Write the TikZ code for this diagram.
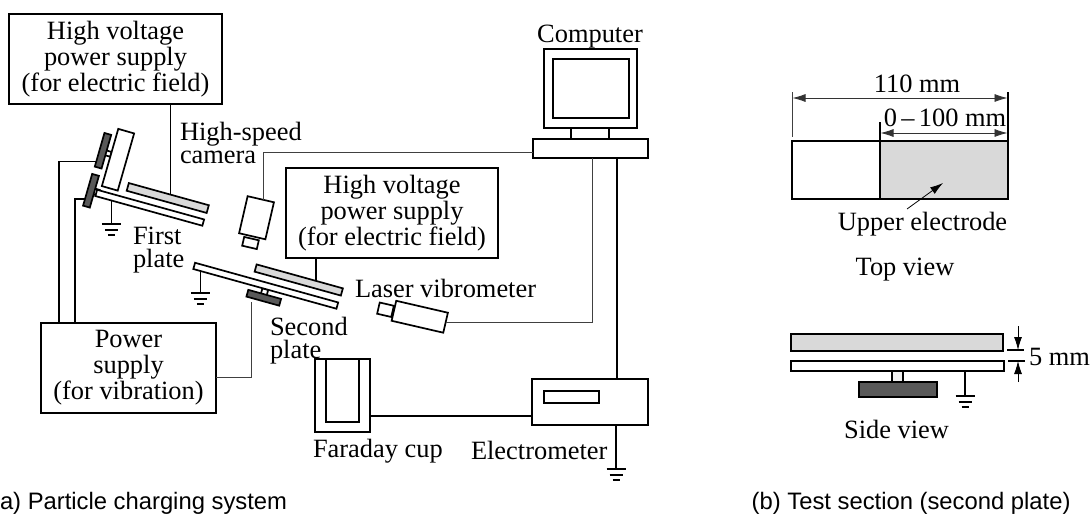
\documentclass[tikz,border=0pt]{standalone}
\usepackage{fontspec}
\setmainfont{Liberation Serif}
\newfontfamily\capfont{Liberation Sans}
\usetikzlibrary{arrows.meta}
\definecolor{lightplate}{HTML}{D9D9D9}
\definecolor{darkshaker}{HTML}{595959}
\tikzset{
  wire/.style={line width=1.7pt, black},
  thinwire/.style={line width=0.9pt, black!75},
  box/.style={draw, line width=1.7pt, fill=white, inner sep=0pt, outer sep=0pt, align=center},
  plate/.style={box, fill=white},
  electrode/.style={box, fill=lightplate},
  shaker/.style={box, fill=darkshaker},
  lbl/.style={inner sep=0pt, outer sep=0pt, anchor=base west, align=left, font=\fontsize{26.4}{23}\selectfont},
  lblc/.style={lbl, anchor=base, align=center},
  captext/.style={inner sep=0pt, outer sep=0pt, anchor=base west, font=\capfont\fontsize{23.8}{26}\selectfont},
  dimline/.style={line width=0.8pt, black!80, {Latex[length=13pt,width=8pt]}-{Latex[length=13pt,width=8pt]}},
  gndbars/.pic={\draw[wire] (-9.5,0) -- (9.5,0) (-6.5,6) -- (6.5,6) (-3.5,11) -- (3.5,11);}
}
\begin{document}
\begin{tikzpicture}[x=1pt, y=-1pt]
    \useasboundingbox (0,0) rectangle (1091,514);

    % Power supplies
    \node[box, minimum width=213pt, minimum height=90pt, font=\fontsize{26.4}{26}\selectfont] (hvA) at (115.5,59) {High voltage\\power supply\\(for electric field)};
    \node[box, minimum width=212pt, minimum height=90pt, font=\fontsize{26.4}{26}\selectfont] (hvB) at (392,213) {High voltage\\power supply\\(for electric field)};
    \node[box, minimum width=175pt, minimum height=90pt, font=\fontsize{26.4}{26}\selectfont] (power) at (128.5,368) {Power\\supply\\(for vibration)};

    % First plate
    \node[plate, minimum width=6pt, minimum height=5pt, rotate=-16] (stubAa) at (108,153.5) {};
    \node[plate, minimum width=6pt, minimum height=6pt, rotate=-16] (stubAb) at (96,192) {};
    \node[shaker, minimum width=7pt, minimum height=35pt, rotate=-16] (shakerAa) at (103,150.75) {};
    \node[shaker, minimum width=7pt, minimum height=33pt, rotate=-16] (shakerAb) at (91,190.75) {};
    \node[plate, minimum width=16.5pt, minimum height=59.5pt, rotate=-16] (tallA) at (118,159.75) {};
    \node[plate, minimum width=111pt, minimum height=6.5pt, rotate=-15.5] (plateA) at (149.75,207.75) {};
    \node[electrode, minimum width=83pt, minimum height=8pt, rotate=-15.5] (upperA) at (167.75,198) {};
    \path (plateA.south west) -- (plateA.south east) coordinate[pos=.15] (plateAgnd);
    \path (upperA.north west) -- (upperA.north east) coordinate[pos=.52] (upperAin);
    \path (shakerAa.north west) -- (shakerAa.south west) coordinate[pos=.85] (shakerAain);
    \path (shakerAb.north west) -- (shakerAb.south west) coordinate[pos=.8] (shakerAbin);
    \coordinate (gndA) at (113,224);
    \coordinate (powerOutA) at (59,323);
    \coordinate (powerOutB) at (75,323);
    \draw[wire] (upperAin) -- (upperAin |- hvA.south);
    \draw[wire] (plateAgnd) -- (plateAgnd |- gndA);
    \pic at (plateAgnd |- gndA) {gndbars};
    \draw[wire] (powerOutA) |- (shakerAain);
    \draw[wire] (powerOutB) |- (shakerAbin);

    % Second plate
    \node[plate, minimum width=6pt, minimum height=6pt, rotate=-15.5] (stubB) at (264.5,292) {};
    \node[shaker, minimum width=34pt, minimum height=7pt, rotate=-15.5] (shakerB) at (263.75,297.75) {};
    \node[plate, minimum width=148.5pt, minimum height=6.5pt, rotate=-15.5] (plateB) at (265.75,285.75) {};
    \node[electrode, minimum width=89.5pt, minimum height=7.5pt, rotate=-15.5] (upperB) at (298.75,280) {};
    \path (plateB.south west) -- (plateB.south east) coordinate[pos=.05] (plateBgnd);
    \path (upperB.north west) -- (upperB.north east) coordinate[pos=.69] (upperBin);
    \coordinate (gndB) at (201,293);
    \coordinate (powerOutC) at (216,377);
    \draw[wire] (upperBin) -- (upperBin |- hvB.south);
    \draw[wire] (plateBgnd) -- (plateBgnd |- gndB);
    \pic at (plateBgnd |- gndB) {gndbars};
    \coordinate (shakerBout) at (251,302);
    \draw[thinwire] (shakerBout) |- (powerOutC);

    % Computer
    \node[box, minimum width=93pt, minimum height=79pt] (monitor) at (590.5,88.5) {};
    \node[box, minimum width=76pt, minimum height=59pt] (screen) at (591,88.5) {};
    \node[box, minimum width=38pt, minimum height=11pt] (neck) at (590,133.5) {};
    \node[box, minimum width=115pt, minimum height=19pt] (pcbase) at (590.5,148.5) {};
    \coordinate (pcLeft) at (533,152);
    \coordinate (pcThin) at (592,158);
    \coordinate (pcThick) at (617,158);

    % Camera and laser vibrometer
    \node[box, minimum width=15pt, minimum height=9pt, rotate=-13] (lens) at (250.5,243) {};
    \node[box, minimum width=27pt, minimum height=38pt, rotate=-13] (camera) at (256.5,217.75) {};
    \path (camera.north west) -- (camera.north east) coordinate[pos=.6] (cameraOut);
    \draw[thinwire] (cameraOut) |- (pcLeft);
    \node[box, minimum width=14.5pt, minimum height=11.5pt, rotate=-13] (laserlens) at (385.5,309.75) {};
    \node[box, minimum width=53pt, minimum height=20.5pt, rotate=-13] (laser) at (419.75,316.75) {};
    \draw[thinwire] (laser.east) -| (pcThin);

    % Faraday cup and electrometer
    \node[box, minimum width=55pt, minimum height=73pt] (cup) at (342.5,395.5) {};
    \node[box, minimum width=33pt, minimum height=63pt] (cupin) at (342.5,390.5) {};
    \node[box, minimum width=116pt, minimum height=46pt] (meter) at (590,402) {};
    \node[box, minimum width=55pt, minimum height=12pt] (display) at (571.5,397) {};
    \coordinate (meterLeft) at (532,416);
    \coordinate (meterTop) at (617,379);
    \coordinate (gndC) at (616,469);
    \draw[wire] (meterLeft) -- (meterLeft -| cup.east);
    \draw[wire] (pcThick) -- (meterTop);
    \draw[wire] (gndC |- meter.south) -- (gndC);
    \pic at (gndC) {gndbars};

    % Labels of the system
    \node[lblc] (lblComputer) at (590,42) {Computer};
    \node[lbl] (lblCamera) at (180,163) {High-speed\\camera};
    \node[lbl] (lblFirst) at (133,267) {First\\plate};
    \node[lbl] (lblSecond) at (270,358) {Second\\plate};
    \node[lbl] (lblLaser) at (355,297) {Laser vibrometer};
    \node[lbl] (lblCup) at (313,457) {Faraday cup};
    \node[lbl] (lblMeter) at (471,459) {Electrometer};
    \node[captext] (capA) at (0,509) {a) Particle charging system};

    % Top view
    \node[plate, minimum width=88pt, minimum height=58pt] (topLeft) at (836,170) {};
    \node[electrode, minimum width=128pt, minimum height=58pt] (topRight) at (944,170) {};
    \coordinate (tickL) at (792,92);
    \coordinate (tickM) at (880,122);
    \coordinate (tickR) at (1008,92);
    \coordinate (dimLa) at (792.5,98);
    \coordinate (dimLb) at (1007.5,98);
    \coordinate (dimMa) at (880.5,133);
    \coordinate (dimMb) at (1007.5,133);
    \coordinate (noteTail) at (907,209);
    \coordinate (noteHead) at (943,183);
    \draw[thinwire] (tickL) -- (792,137);
    \draw[wire] (tickM) -- (topRight.north west);
    \draw[wire] (tickR) -- (topRight.north east);
    \draw[dimline] (dimLa) -- (dimLb);
    \draw[dimline] (dimMa) -- (dimMb);
    \draw[line width=0.8pt, -{Latex[length=13pt,width=8pt]}] (noteTail) -- (noteHead);
    \node[lblc] (lblLong) at (917,92) {110 mm};
    \node[lblc] (lblRange) at (945,126) {0\,--\,100 mm};
    \node[lblc] (lblUpper) at (922.5,230) {Upper electrode};
    \node[lblc] (lblTop) at (905,275) {Top view};

    % Side view
    \node[electrode, minimum width=212pt, minimum height=17pt] (sideUpper) at (897,342.5) {};
    \node[plate, minimum width=213pt, minimum height=10pt] (sideLower) at (897.5,366) {};
    \node[box, fill=black!6, minimum width=11pt, minimum height=11pt] (sideStub) at (897.5,376.5) {};
    \node[shaker, minimum width=78pt, minimum height=15pt] (sideShaker) at (898,389.5) {};
    \coordinate (gndD) at (965,396);
    \draw[wire] (gndD |- sideLower.south) -- (gndD);
    \pic at (gndD) {gndbars};
    \coordinate (gapTopA) at (1007,350);
    \coordinate (gapTopB) at (1024,350);
    \coordinate (gapLowA) at (1008,361);
    \coordinate (gapLowB) at (1025,361);
    \coordinate (gapArrowA) at (1018,326);
    \coordinate (gapArrowB) at (1018,382);
    \draw[wire] (gapTopA) -- (gapTopB);
    \draw[wire] (gapLowA) -- (gapLowB);
    \draw[line width=0.8pt, -{Latex[length=13pt,width=8pt]}] (gapArrowA) -- (gapArrowA |- gapTopA);
    \draw[line width=0.8pt, -{Latex[length=13pt,width=8pt]}] (gapArrowB) -- (gapArrowB |- gapLowA);
    \node[lbl] (lblGap) at (1029,365) {5 mm};
    \node[lblc] (lblSide) at (896.5,438) {Side view};
    \node[captext, anchor=base east] (capB) at (1070.5,509) {(b) Test section (second plate)};
  \end{tikzpicture}
\end{document}
